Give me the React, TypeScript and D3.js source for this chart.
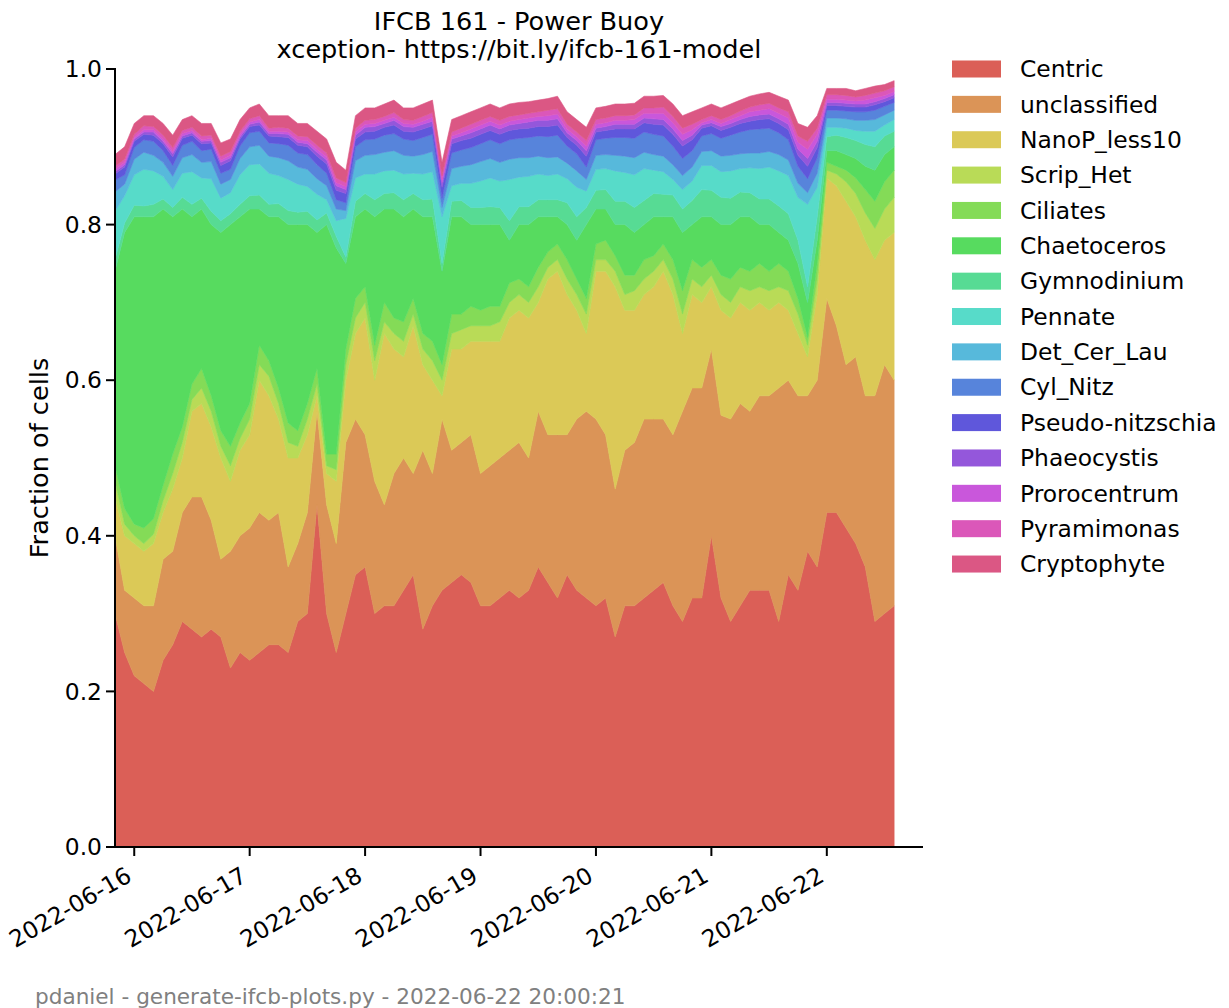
import React from 'react'
import * as d3 from 'd3'

const width = 1229
const height = 1008
const plot = { left: 115, right: 923, top: 69, bottom: 847 }

// 2-hourly samples, 2022-06-15 20:00 .. 2022-06-22 14:00 (UTC)
const startTime = new Date(Date.UTC(2022, 5, 15, 20))
const endTime = new Date(Date.UTC(2022, 5, 22, 20))
const sampleTimes = d3.utcHour.every(2)!.range(startTime, new Date(Date.UTC(2022, 5, 22, 15)))

const classNames = ['Centric', 'unclassified', 'NanoP_less10', 'Scrip_Het', 'Ciliates', 'Chaetoceros',
  'Gymnodinium', 'Pennate', 'Det_Cer_Lau', 'Cyl_Nitz', 'Pseudo-nitzschia', 'Phaeocystis',
  'Prorocentrum', 'Pyramimonas', 'Cryptophyte']

const centric = [0.30, 0.25, 0.22, 0.21, 0.20, 0.24, 0.26, 0.29, 0.28, 0.27,
  0.28, 0.27, 0.23, 0.25, 0.24, 0.25, 0.26, 0.26, 0.25, 0.29,
  0.30, 0.44, 0.30, 0.25, 0.30, 0.35, 0.36, 0.30, 0.31, 0.31,
  0.33, 0.35, 0.28, 0.31, 0.33, 0.34, 0.35, 0.34, 0.31, 0.31,
  0.32, 0.33, 0.32, 0.33, 0.36, 0.34, 0.32, 0.35, 0.33, 0.32,
  0.31, 0.32, 0.27, 0.31, 0.31, 0.32, 0.33, 0.34, 0.31, 0.29,
  0.32, 0.32, 0.40, 0.32, 0.29, 0.31, 0.33, 0.33, 0.33, 0.29,
  0.35, 0.33, 0.38, 0.36, 0.43, 0.43, 0.41, 0.39, 0.36, 0.29,
  0.30, 0.31]
const unclassified = [0.10, 0.08, 0.10, 0.10, 0.11, 0.13, 0.12, 0.14, 0.17, 0.18,
  0.14, 0.10, 0.15, 0.15, 0.17, 0.18, 0.16, 0.17, 0.11, 0.10,
  0.13, 0.12, 0.14, 0.14, 0.22, 0.20, 0.17, 0.17, 0.13, 0.17,
  0.17, 0.13, 0.23, 0.17, 0.22, 0.17, 0.17, 0.19, 0.17, 0.18,
  0.18, 0.18, 0.20, 0.17, 0.20, 0.19, 0.21, 0.18, 0.22, 0.24,
  0.24, 0.21, 0.19, 0.20, 0.21, 0.23, 0.22, 0.21, 0.22, 0.27,
  0.27, 0.27, 0.24, 0.235, 0.26, 0.26, 0.23, 0.25, 0.25, 0.30,
  0.25, 0.25, 0.20, 0.24, 0.275, 0.24, 0.21, 0.24, 0.22, 0.29,
  0.32, 0.29]
const nanoP = [0.05, 0.07, 0.07, 0.07, 0.08, 0.06, 0.08, 0.07, 0.11, 0.12,
  0.12, 0.13, 0.09, 0.11, 0.12, 0.17, 0.16, 0.12, 0.14, 0.11,
  0.10, 0.02, 0.04, 0.08, 0.08, 0.11, 0.15, 0.13, 0.22, 0.16,
  0.13, 0.19, 0.11, 0.12, 0.03, 0.13, 0.12, 0.12, 0.17, 0.16,
  0.15, 0.17, 0.17, 0.18, 0.14, 0.20, 0.21, 0.18, 0.14, 0.10,
  0.19, 0.21, 0.26, 0.18, 0.17, 0.16, 0.17, 0.19, 0.18, 0.10,
  0.12, 0.11, 0.08, 0.135, 0.13, 0.13, 0.13, 0.12, 0.11, 0.11,
  0.09, 0.08, 0.05, 0.11, 0.155, 0.18, 0.21, 0.18, 0.20, 0.175,
  0.16, 0.19]
const scripHet = [0.02, 0.015, 0.01, 0.01, 0.012, 0.015, 0.02, 0.02, 0.015, 0.02,
  0.02, 0.015, 0.02, 0.015, 0.02, 0.02, 0.025, 0.02, 0.02, 0.015,
  0.02, 0.015, 0.01, 0.015, 0.02, 0.02, 0.02, 0.025, 0.015, 0.02,
  0.02, 0.015, 0.02, 0.025, 0.02, 0.02, 0.025, 0.02, 0.02, 0.02,
  0.025, 0.02, 0.02, 0.02, 0.02, 0.015, 0.015, 0.02, 0.02, 0.025,
  0.015, 0.015, 0.02, 0.02, 0.025, 0.02, 0.02, 0.015, 0.02, 0.025,
  0.02, 0.02, 0.015, 0.02, 0.02, 0.02, 0.025, 0.02, 0.025, 0.02,
  0.025, 0.025, 0.015, 0.02, 0.01, 0.015, 0.025, 0.03, 0.035, 0.04,
  0.04, 0.045]
const ciliates = [0.02, 0.02, 0.015, 0.02, 0.02, 0.02, 0.025, 0.02, 0.02, 0.025,
  0.02, 0.02, 0.025, 0.02, 0.02, 0.025, 0.02, 0.02, 0.025, 0.02,
  0.02, 0.02, 0.015, 0.02, 0.02, 0.025, 0.02, 0.02, 0.025, 0.02,
  0.025, 0.02, 0.02, 0.025, 0.02, 0.025, 0.02, 0.025, 0.02, 0.025,
  0.02, 0.025, 0.02, 0.02, 0.025, 0.02, 0.02, 0.025, 0.02, 0.02,
  0.02, 0.025, 0.02, 0.025, 0.02, 0.025, 0.02, 0.02, 0.025, 0.03,
  0.025, 0.025, 0.02, 0.025, 0.03, 0.025, 0.025, 0.03, 0.025, 0.03,
  0.025, 0.02, 0.01, 0.02, 0.01, 0.01, 0.015, 0.02, 0.03, 0.035,
  0.035, 0.035]
const chaetoceros = [0.25, 0.355, 0.395, 0.40, 0.388, 0.355, 0.305, 0.28, 0.215, 0.205,
  0.22, 0.255, 0.285, 0.265, 0.25, 0.175, 0.185, 0.22, 0.255, 0.265,
  0.23, 0.175, 0.295, 0.265, 0.11, 0.105, 0.10, 0.165, 0.12, 0.14,
  0.135, 0.115, 0.15, 0.16, 0.12, 0.125, 0.125, 0.105, 0.11, 0.105,
  0.105, 0.055, 0.07, 0.08, 0.065, 0.045, 0.035, 0.045, 0.05, 0.095,
  0.045, 0.04, 0.04, 0.065, 0.055, 0.045, 0.05, 0.035, 0.055, 0.075,
  0.045, 0.065, 0.055, 0.065, 0.07, 0.065, 0.07, 0.05, 0.06, 0.04,
  0.04, 0.045, 0.045, 0.03, 0.015, 0.02, 0.02, 0.025, 0.03, 0.04,
  0.035, 0.03]
const gymnodinium = [0.015, 0.012, 0.015, 0.014, 0.016, 0.013, 0.012, 0.015, 0.016, 0.014,
  0.017, 0.015, 0.014, 0.016, 0.017, 0.018, 0.016, 0.017, 0.018, 0.016,
  0.017, 0.016, 0.015, 0.015, 0.008, 0.02, 0.02, 0.022, 0.02, 0.021,
  0.022, 0.02, 0.022, 0.023, 0.01, 0.02, 0.021, 0.022, 0.022, 0.023,
  0.022, 0.025, 0.023, 0.023, 0.022, 0.022, 0.022, 0.028, 0.03, 0.022,
  0.024, 0.025, 0.03, 0.03, 0.032, 0.031, 0.03, 0.029, 0.028, 0.03,
  0.031, 0.035, 0.034, 0.035, 0.034, 0.032, 0.031, 0.033, 0.033, 0.034,
  0.034, 0.03, 0.02, 0.03, 0.018, 0.02, 0.022, 0.023, 0.028, 0.03,
  0.024, 0.02]
const pennate = [0.062, 0.035, 0.039, 0.047, 0.043, 0.029, 0.023, 0.031, 0.042, 0.026,
  0.042, 0.029, 0.027, 0.038, 0.04, 0.04, 0.04, 0.036, 0.04, 0.036,
  0.032, 0.033, 0.017, 0.02, 0.05, 0.03, 0.025, 0.033, 0.029, 0.029,
  0.033, 0.026, 0.033, 0.035, 0.06, 0.02, 0.022, 0.031, 0.034, 0.037,
  0.034, 0.053, 0.038, 0.039, 0.033, 0.031, 0.033, 0.031, 0.038, 0.021,
  0.027, 0.027, 0.039, 0.037, 0.042, 0.041, 0.03, 0.029, 0.02, 0.025,
  0.025, 0.031, 0.032, 0.033, 0.035, 0.03, 0.032, 0.039, 0.041, 0.045,
  0.049, 0.055, 0.106, 0.038, 0.012, 0.01, 0.012, 0.013, 0.017, 0.02,
  0.014, 0.015]
const detCerLau = [0.025, 0.015, 0.02, 0.022, 0.02, 0.018, 0.017, 0.02, 0.022, 0.02,
  0.022, 0.018, 0.017, 0.021, 0.023, 0.024, 0.022, 0.023, 0.024, 0.022,
  0.022, 0.02, 0.018, 0.015, 0.01, 0.022, 0.024, 0.025, 0.024, 0.025,
  0.024, 0.022, 0.025, 0.026, 0.012, 0.022, 0.022, 0.024, 0.025, 0.025,
  0.024, 0.026, 0.025, 0.024, 0.023, 0.023, 0.022, 0.02, 0.021, 0.015,
  0.018, 0.018, 0.02, 0.021, 0.022, 0.021, 0.02, 0.02, 0.019, 0.018,
  0.018, 0.018, 0.019, 0.02, 0.02, 0.019, 0.019, 0.02, 0.02, 0.021,
  0.02, 0.018, 0.015, 0.018, 0.012, 0.012, 0.012, 0.013, 0.014, 0.015,
  0.013, 0.012]
const cylNitz = [0.015, 0.012, 0.015, 0.016, 0.018, 0.015, 0.014, 0.016, 0.017, 0.015,
  0.016, 0.014, 0.013, 0.016, 0.018, 0.018, 0.017, 0.018, 0.02, 0.018,
  0.019, 0.018, 0.016, 0.012, 0.01, 0.018, 0.02, 0.02, 0.022, 0.022,
  0.021, 0.02, 0.022, 0.022, 0.012, 0.02, 0.021, 0.022, 0.023, 0.024,
  0.024, 0.025, 0.025, 0.026, 0.026, 0.027, 0.028, 0.022, 0.022, 0.016,
  0.02, 0.021, 0.023, 0.024, 0.025, 0.026, 0.026, 0.026, 0.024, 0.022,
  0.021, 0.02, 0.022, 0.023, 0.026, 0.028, 0.03, 0.031, 0.03, 0.028,
  0.026, 0.022, 0.018, 0.02, 0.01, 0.01, 0.01, 0.011, 0.011, 0.012,
  0.011, 0.01]
const pseudoNitzschia = [0.008, 0.01, 0.008, 0.007, 0.008, 0.009, 0.011, 0.009, 0.008, 0.009,
  0.008, 0.01, 0.011, 0.009, 0.008, 0.008, 0.009, 0.009, 0.01, 0.01,
  0.01, 0.011, 0.012, 0.012, 0.012, 0.01, 0.01, 0.01, 0.01, 0.011,
  0.01, 0.011, 0.011, 0.011, 0.014, 0.012, 0.012, 0.012, 0.012, 0.012,
  0.012, 0.012, 0.012, 0.012, 0.012, 0.013, 0.013, 0.011, 0.011, 0.014,
  0.01, 0.01, 0.011, 0.011, 0.012, 0.012, 0.013, 0.014, 0.015, 0.016,
  0.014, 0.01, 0.01, 0.01, 0.01, 0.011, 0.011, 0.012, 0.012, 0.012,
  0.013, 0.014, 0.016, 0.013, 0.006, 0.006, 0.006, 0.006, 0.006, 0.007,
  0.006, 0.006]
const phaeocystis = [0.003, 0.003, 0.003, 0.003, 0.004, 0.003, 0.004, 0.003, 0.003, 0.003,
  0.003, 0.004, 0.004, 0.003, 0.003, 0.004, 0.003, 0.004, 0.004, 0.004,
  0.004, 0.005, 0.005, 0.006, 0.005, 0.005, 0.006, 0.006, 0.005, 0.006,
  0.006, 0.006, 0.006, 0.006, 0.006, 0.006, 0.006, 0.007, 0.007, 0.007,
  0.007, 0.007, 0.007, 0.008, 0.008, 0.008, 0.008, 0.006, 0.006, 0.007,
  0.005, 0.005, 0.006, 0.006, 0.006, 0.006, 0.007, 0.007, 0.007, 0.007,
  0.006, 0.004, 0.004, 0.005, 0.005, 0.005, 0.006, 0.006, 0.006, 0.006,
  0.007, 0.008, 0.01, 0.008, 0.004, 0.004, 0.004, 0.004, 0.004, 0.004,
  0.004, 0.004]
const prorocentrum = [0.003, 0.003, 0.002, 0.003, 0.003, 0.003, 0.003, 0.003, 0.003, 0.002,
  0.003, 0.003, 0.003, 0.003, 0.003, 0.003, 0.003, 0.003, 0.003, 0.003,
  0.004, 0.004, 0.004, 0.004, 0.004, 0.004, 0.004, 0.004, 0.004, 0.004,
  0.004, 0.004, 0.004, 0.005, 0.004, 0.004, 0.004, 0.005, 0.005, 0.005,
  0.005, 0.005, 0.005, 0.005, 0.005, 0.006, 0.006, 0.005, 0.005, 0.006,
  0.005, 0.005, 0.005, 0.005, 0.006, 0.006, 0.007, 0.008, 0.008, 0.008,
  0.007, 0.003, 0.004, 0.004, 0.005, 0.005, 0.006, 0.006, 0.007, 0.007,
  0.008, 0.009, 0.012, 0.009, 0.004, 0.004, 0.004, 0.004, 0.005, 0.005,
  0.004, 0.004]
const pyramimonas = [0.004, 0.004, 0.004, 0.005, 0.004, 0.005, 0.005, 0.004, 0.004, 0.005,
  0.004, 0.005, 0.005, 0.004, 0.004, 0.005, 0.004, 0.005, 0.005, 0.005,
  0.005, 0.005, 0.005, 0.006, 0.005, 0.005, 0.005, 0.005, 0.005, 0.006,
  0.005, 0.005, 0.006, 0.006, 0.005, 0.005, 0.006, 0.006, 0.006, 0.006,
  0.006, 0.006, 0.006, 0.006, 0.006, 0.007, 0.007, 0.006, 0.006, 0.007,
  0.006, 0.006, 0.006, 0.006, 0.006, 0.007, 0.007, 0.008, 0.008, 0.008,
  0.007, 0.004, 0.005, 0.005, 0.005, 0.006, 0.006, 0.007, 0.007, 0.007,
  0.008, 0.008, 0.01, 0.008, 0.006, 0.006, 0.006, 0.005, 0.006, 0.006,
  0.006, 0.006]
const cryptophyte = [0.015, 0.016, 0.014, 0.013, 0.014, 0.015, 0.016, 0.014, 0.015, 0.016,
  0.015, 0.017, 0.016, 0.015, 0.014, 0.015, 0.016, 0.015, 0.016, 0.016,
  0.017, 0.018, 0.018, 0.02, 0.016, 0.016, 0.016, 0.015, 0.016, 0.016,
  0.015, 0.016, 0.016, 0.016, 0.017, 0.016, 0.016, 0.016, 0.016, 0.016,
  0.016, 0.016, 0.016, 0.015, 0.015, 0.015, 0.016, 0.016, 0.016, 0.017,
  0.015, 0.015, 0.015, 0.015, 0.015, 0.015, 0.015, 0.015, 0.016, 0.016,
  0.016, 0.015, 0.015, 0.015, 0.015, 0.014, 0.014, 0.014, 0.014, 0.015,
  0.015, 0.016, 0.018, 0.016, 0.008, 0.008, 0.009, 0.008, 0.009, 0.009,
  0.008, 0.008]

const seriesValues = [centric, unclassified, nanoP, scripHet, ciliates, chaetoceros,
  gymnodinium, pennate, detCerLau, cylNitz, pseudoNitzschia, phaeocystis,
  prorocentrum, pyramimonas, cryptophyte]

const yTicks = [0, 0.2, 0.4, 0.6, 0.8, 1.0]
const xTicks = d3.utcDay.range(new Date(Date.UTC(2022, 5, 16)), new Date(Date.UTC(2022, 5, 23)))

const titleLines = ['IFCB 161 - Power Buoy', 'xception- https://bit.ly/ifcb-161-model']
const footer = 'pdaniel - generate-ifcb-plots.py - 2022-06-22 20:00:21'

// seaborn "hls" palette
const colors = classNames.map((_, i) => d3.hsl(((i / classNames.length + 0.01) % 1) * 360, 0.65, 0.6).formatHex())

const font = 'DejaVu Sans, sans-serif'

export default function App() {
  const rows = sampleTimes.map((t, i) => {
    const r: any = { time: t }
    classNames.forEach((name, k) => { r[name] = seriesValues[k][i] })
    return r
  })
  const stacked = d3.stack<any>().keys(classNames)(rows)

  const x = d3.scaleUtc().domain([startTime, endTime]).range([plot.left, plot.right])
  const y = d3.scaleLinear().domain([0, 1]).range([plot.bottom, plot.top])

  const area = d3.area<any>()
    .x(d => x(d.data.time))
    .y0(d => y(d[0]))
    .y1(d => y(d[1]))

  const fmtDay = d3.utcFormat('%Y-%m-%d')
  const legendX = 952
  const legendStep = 35.36

  return (
    <svg width={width} height={height} style={{ position: 'absolute', left: 0, top: 0, background: '#fff' }}
      fontFamily={font}>
      <rect width={width} height={height} fill="#fff" />
      {titleLines.map((t, i) => (
        <text key={t} x={(plot.left + plot.right) / 2} y={30 + i * 27.5} textAnchor="middle" fontSize={25.6}>{t}</text>
      ))}

      <g>
        {stacked.map((layer, k) => (
          <path key={layer.key} d={area(layer) || ''} fill={colors[k]} stroke={colors[k]} strokeWidth={0.6} />
        ))}
      </g>

      {/* axes */}
      <g stroke="#000" strokeWidth={2}>
        <line x1={plot.left} x2={plot.left} y1={plot.top - 1} y2={plot.bottom + 1} />
        <line x1={plot.left - 1} x2={plot.right} y1={plot.bottom} y2={plot.bottom} />
      </g>
      {yTicks.map(t => (
        <g key={t} transform={`translate(${plot.left},${y(t)})`}>
          <line x1={-9} x2={0} stroke="#000" strokeWidth={2} />
          <text x={-13} dy="0.35em" textAnchor="end" fontSize={23.4}>{d3.format('.1f')(t)}</text>
        </g>
      ))}
      {xTicks.map(t => (
        <g key={t.getTime()} transform={`translate(${x(t)},${plot.bottom})`}>
          <line y1={0} y2={9} stroke="#000" strokeWidth={2} />
          <text transform="translate(-10,18) rotate(-30)" textAnchor="end" dominantBaseline="hanging" fontSize={23.4}>
            {fmtDay(t)}
          </text>
        </g>
      ))}
      <text transform={`translate(48,${(plot.top + plot.bottom) / 2}) rotate(-90)`} textAnchor="middle" fontSize={25.6}>
        Fraction of cells
      </text>

      {/* legend */}
      {classNames.map((name, k) => (
        <g key={name} transform={`translate(${legendX},${plot.top + k * legendStep})`}>
          <rect x={0} y={-8.5} width={49} height={17} fill={colors[k]} />
          <text x={68} dy="0.35em" fontSize={23.4}>{name}</text>
        </g>
      ))}

      <text x={35} y={1004} fontSize={21.6} fill="#808080">{footer}</text>
    </svg>
  )
}
